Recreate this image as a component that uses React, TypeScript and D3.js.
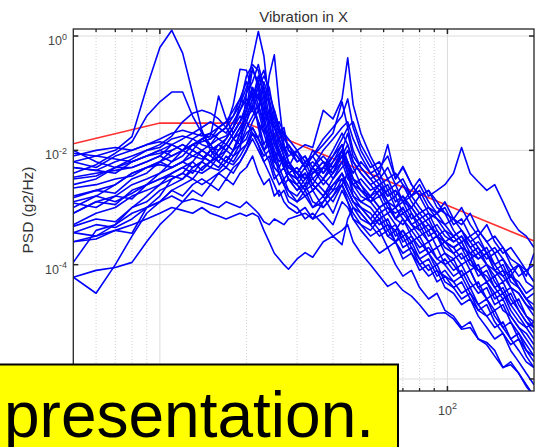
import React from 'react'
import * as d3 from 'd3'

const W = 539
const H = 447

// frequency grid (Hz) shared by all runs
const freqHz = [
  5, 6, 7, 8, 9, 10,
  11, 12, 13, 14, 15, 16, 17, 18, 19, 20,
  21, 22, 23, 24, 25, 26, 27, 28,
  30, 32, 34, 37, 40, 43, 45, 47, 50,
  54, 58, 62, 66, 70, 75, 80, 86, 92, 98,
  105, 112, 120, 128, 137, 146, 156, 166, 177, 188, 200,
]

// measured PSD per run, as log10(g2/Hz)
const run01 = [-2.2, -2.1, -2.0, -1.76, -0.9, -0.2, 0.1, -0.3, -1.0, -1.65, -2.0, -2.2, -2.3, -2.1, -1.9, -1.8, -1.5, -1.3, -1.7, -2.0, -2.3, -2.4, -2.6, -2.7, -2.9, -2.8, -3.0, -2.9, -2.7, -2.6, -2.8, -3.0, -3.2, -3.3, -3.1, -3.4, -3.3, -3.6, -3.5, -3.8, -3.7, -3.9, -4.0, -3.9, -4.2, -4.1, -4.4, -4.3, -4.6, -4.5, -4.8, -5.0, -5.1, -5.3]
const run02 = [-2.4, -2.25, -2.05, -1.85, -1.4, -1.15, -0.98, -0.98, -1.4, -1.7, -1.9, -2.1, -2.2, -2.0, -1.7, -1.5, -1.2, -1.5, -1.9, -1.7, -2.1, -2.4, -2.3, -2.5, -2.6, -2.4, -2.7, -2.5, -2.3, -2.1, -2.4, -2.7, -2.9, -2.8, -3.0, -2.9, -3.2, -3.1, -3.3, -3.4, -3.3, -3.5, -3.6, -3.5, -3.7, -3.8, -3.7, -4.0, -4.1, -4.0, -4.3, -4.4, -4.6, -4.7]
const run03 = [-2.5, -2.45, -2.3, -2.15, -2.0, -1.9, -1.75, -1.5, -1.35, -1.3, -1.35, -1.45, -1.6, -1.8, -1.7, -1.4, -1.1, -0.8, -1.2, -1.7, -2.0, -2.2, -2.1, -2.3, -2.4, -2.2, -2.5, -2.3, -2.4, -2.2, -2.5, -2.6, -2.7, -2.9, -2.7, -3.0, -3.1, -3.0, -3.3, -3.2, -3.5, -3.4, -3.6, -3.7, -3.6, -3.9, -3.8, -4.0, -4.2, -4.1, -4.4, -4.5, -4.7, -4.8]
const run04 = [-2.3, -2.35, -2.4, -2.2, -2.1, -2.0, -2.1, -2.0, -1.9, -1.8, -1.75, -1.05, -1.45, -1.7, -1.5, -1.3, -0.9, -1.2, -1.6, -1.9, -1.7, -2.0, -2.3, -2.2, -2.5, -2.3, -2.6, -2.8, -2.6, -2.4, -2.7, -2.9, -3.0, -3.1, -3.3, -3.2, -3.5, -3.4, -3.6, -3.5, -3.8, -4.0, -3.9, -4.1, -4.0, -4.3, -4.5, -4.4, -4.7, -4.6, -4.9, -5.1, -5.2, -5.4]
const run05 = [-2.6, -2.5, -2.3, -2.2, -2.1, -2.05, -2.0, -1.9, -2.0, -2.1, -2.2, -2.1, -2.0, -2.1, -2.0, -1.0, -0.4, 0.08, -0.35, -1.2, -1.8, -2.1, -2.3, -2.5, -2.7, -2.6, -2.5, -2.7, -2.9, -2.6, -2.4, -2.8, -3.0, -3.2, -3.0, -3.3, -3.4, -3.2, -3.5, -3.7, -3.6, -3.9, -3.8, -4.0, -4.2, -4.1, -4.4, -4.6, -4.5, -4.8, -4.9, -5.1, -5.3, -5.5]
const run06 = [-2.8, -2.7, -2.6, -2.4, -2.3, -2.2, -2.1, -2.0, -1.9, -2.0, -2.1, -2.2, -2.0, -1.8, -1.9, -1.7, -1.6, -1.8, -1.4, -0.7, -0.33, -1.2, -1.9, -2.2, -2.4, -2.5, -2.3, -2.6, -2.4, -2.1, -2.3, -2.6, -2.8, -2.9, -3.1, -3.0, -3.2, -3.3, -3.1, -3.4, -3.6, -3.5, -3.7, -3.8, -3.7, -4.0, -4.1, -4.2, -4.4, -4.3, -4.6, -4.8, -5.0, -5.1]
const run07 = [-2.0, -2.2, -2.3, -2.3, -2.2, -2.1, -2.2, -2.0, -1.9, -1.85, -1.8, -1.7, -1.6, -1.2, -0.58, -0.6, -1.0, -1.6, -2.0, -1.8, -2.2, -2.3, -2.5, -2.4, -2.6, -2.8, -2.7, -3.0, -2.8, -2.6, -2.9, -3.1, -3.3, -3.4, -3.2, -3.5, -3.6, -3.4, -3.7, -3.9, -3.8, -4.1, -4.2, -4.3, -4.2, -4.5, -4.7, -4.6, -4.9, -5.1, -5.0, -5.3, -5.5, -5.7]
const run08 = [-2.9, -2.8, -2.6, -2.4, -2.3, -2.2, -2.3, -2.2, -2.0, -2.1, -2.2, -2.0, -1.9, -2.0, -1.7, -1.3, -0.55, -0.9, -1.5, -1.3, -1.8, -2.0, -2.2, -2.4, -2.5, -2.7, -2.4, -2.2, -2.5, -2.3, -2.2, -2.5, -2.7, -2.8, -2.7, -2.9, -2.8, -3.1, -3.0, -3.2, -3.4, -3.3, -3.5, -3.6, -3.5, -3.8, -3.9, -3.8, -4.1, -4.2, -4.4, -4.5, -4.7, -4.9]
const run09 = [-3.1, -2.9, -2.8, -2.6, -2.5, -2.4, -2.3, -2.2, -2.3, -2.2, -2.0, -1.9, -2.0, -1.8, -1.6, -1.4, -1.1, -0.7, -1.0, -1.6, -1.9, -1.8, -2.1, -2.3, -2.0, -1.9, -1.95, -1.3, -1.45, -1.1, -0.38, -1.2, -1.7, -2.1, -2.4, -1.9, -2.5, -2.3, -2.6, -2.8, -2.7, -3.0, -3.1, -3.4, -3.6, -3.5, -3.7, -3.9, -3.8, -4.1, -4.2, -4.0, -4.3, -4.4]
const run10 = [-3.3, -3.1, -3.0, -2.8, -2.7, -2.6, -2.5, -2.4, -2.5, -2.3, -2.2, -2.3, -2.1, -2.2, -2.0, -1.9, -1.7, -1.8, -2.0, -1.9, -2.1, -2.0, -2.2, -2.4, -2.3, -2.5, -2.4, -2.2, -2.3, -2.0, -2.4, -2.6, -2.5, -2.7, -2.6, -2.8, -2.7, -2.9, -2.7, -2.5, -2.8, -2.7, -2.6, -2.4, -1.95, -2.4, -2.55, -2.7, -2.6, -2.9, -3.2, -3.4, -3.5, -3.7]
const run11 = [-3.6, -3.5, -3.4, -3.3, -3.2, -3.1, -3.0, -3.05, -3.1, -3.0, -3.1, -3.15, -3.2, -3.15, -3.1, -3.15, -3.1, -3.16, -3.4, -3.6, -3.8, -3.9, -4.0, -4.08, -3.9, -3.79, -3.87, -3.6, -3.5, -3.65, -3.2, -3.0, -3.1, -3.3, -3.2, -3.5, -3.4, -3.7, -3.6, -3.9, -4.1, -4.0, -4.3, -4.4, -4.6, -4.5, -4.8, -4.9, -5.1, -5.0, -5.3, -5.5, -5.7, -5.8]
const run12 = [-3.44, -3.5, -3.3, -3.1, -3.0, -2.9, -2.8, -2.9, -2.85, -2.9, -2.95, -3.0, -2.9, -2.95, -3.0, -2.9, -3.0, -3.1, -3.25, -3.3, -3.2, -3.25, -3.3, -3.2, -3.15, -3.1, -3.2, -2.9, -2.6, -2.5, -2.7, -2.9, -3.0, -3.2, -3.4, -3.3, -3.6, -3.8, -3.7, -4.0, -4.2, -4.1, -4.4, -4.5, -4.7, -4.6, -4.9, -5.1, -5.3, -5.2, -5.5, -5.7, -5.9, -6.1]
const run13 = [-4.22, -4.5, -4.0, -3.5, -3.1, -2.9, -2.7, -2.6, -2.5, -2.6, -2.5, -2.4, -2.5, -2.3, -2.2, -2.0, -1.8, -2.0, -2.2, -2.1, -2.4, -2.6, -2.5, -2.7, -2.8, -2.6, -2.9, -3.0, -2.8, -2.5, -2.7, -2.9, -3.1, -3.3, -3.5, -3.4, -3.6, -3.5, -3.8, -4.0, -3.9, -4.2, -4.1, -4.3, -4.5, -4.4, -4.7, -4.9, -4.8, -5.1, -5.3, -5.2, -5.5, -5.6]
const run14 = [-4.22, -4.1, -4.05, -3.96, -3.6, -3.3, -3.1, -2.9, -2.7, -2.8, -2.6, -2.7, -2.5, -2.6, -2.4, -2.3, -2.1, -2.4, -2.6, -2.5, -2.8, -2.7, -2.9, -3.0, -3.1, -3.0, -3.2, -3.1, -3.3, -2.9, -3.0, -3.2, -3.4, -3.6, -3.8, -3.7, -4.0, -4.2, -4.1, -4.4, -4.6, -4.5, -4.8, -4.9, -5.1, -5.0, -5.3, -5.4, -5.6, -5.8, -5.7, -5.9, -6.1, -6.3]
const run15 = [-3.96, -3.4, -3.3, -3.0, -2.9, -2.7, -2.6, -2.5, -2.3, -2.2, -2.3, -2.1, -2.2, -2.0, -1.9, -1.6, -1.4, -1.2, -1.5, -1.9, -2.2, -2.0, -2.3, -2.5, -2.6, -2.8, -2.7, -2.5, -2.7, -2.4, -2.6, -2.8, -2.9, -3.0, -3.2, -3.1, -3.3, -3.5, -3.4, -3.6, -3.8, -3.7, -4.0, -4.2, -4.1, -4.4, -4.3, -4.6, -4.8, -4.7, -5.0, -5.2, -5.4, -5.6]
const run16 = [-3.6, -3.55, -3.4, -3.45, -3.0, -2.8, -2.5, -2.4, -2.2, -2.0, -2.1, -1.9, -1.8, -1.6, -1.3, -1.1, -1.3, -1.0, -1.4, -1.8, -2.0, -2.3, -2.1, -2.4, -2.5, -2.4, -2.6, -2.3, -2.1, -1.9, -2.2, -2.5, -2.6, -2.8, -3.0, -2.9, -3.2, -3.0, -3.3, -3.5, -3.4, -3.7, -3.6, -3.8, -4.0, -3.9, -4.2, -4.1, -4.4, -4.6, -4.5, -4.8, -5.0, -5.2]
const run17 = [-3.33, -3.2, -3.25, -3.0, -2.8, -2.6, -2.4, -2.3, -2.4, -2.2, -2.0, -2.1, -1.9, -1.7, -1.5, -1.2, -0.9, -1.1, -1.3, -1.5, -1.4, -1.7, -1.6, -2.0, -2.2, -2.1, -2.3, -2.0, -1.8, -1.6, -1.5, -1.8, -2.1, -2.4, -2.6, -2.5, -2.8, -2.6, -2.9, -3.1, -3.0, -3.2, -3.3, -3.2, -3.4, -3.6, -3.5, -3.8, -3.7, -3.9, -4.1, -4.0, -4.2, -3.8]
const run18 = [-3.1, -2.9, -2.95, -2.7, -2.6, -2.5, -2.4, -2.3, -2.2, -2.35, -2.2, -2.1, -2.2, -2.0, -1.8, -1.5, -1.2, -0.9, -1.3, -1.5, -1.6, -1.5, -1.7, -1.8, -2.0, -2.2, -2.1, -1.8, -1.6, -1.4, -1.1, -1.6, -2.0, -2.3, -2.2, -2.5, -2.4, -2.6, -2.8, -2.7, -3.0, -3.1, -3.0, -3.3, -3.2, -3.5, -3.4, -3.6, -3.8, -3.7, -4.0, -4.2, -4.1, -4.3]
const run19 = [-2.92, -3.0, -2.8, -2.85, -2.6, -2.4, -2.2, -2.1, -1.9, -1.8, -1.9, -1.7, -1.6, -1.4, -1.2, -0.9, -0.6, -0.8, -0.6, -1.0, -1.3, -1.6, -1.8, -1.9, -2.1, -2.3, -2.0, -2.2, -2.4, -2.0, -1.7, -2.1, -2.3, -2.5, -2.4, -2.7, -2.6, -2.9, -3.0, -2.8, -3.1, -3.2, -3.4, -3.5, -3.4, -3.7, -3.6, -3.8, -4.0, -4.2, -4.1, -4.4, -4.6, -4.5]
const run20 = [-2.83, -2.7, -2.75, -2.5, -2.4, -2.2, -2.0, -1.9, -2.0, -1.8, -1.7, -1.6, -1.5, -1.3, -1.1, -1.2, -1.0, -1.3, -0.8, -1.1, -1.5, -1.8, -2.0, -2.2, -2.4, -2.2, -2.1, -2.4, -2.2, -1.9, -2.3, -2.5, -2.7, -2.8, -2.6, -2.9, -3.0, -2.8, -3.1, -3.3, -3.2, -3.5, -3.6, -3.7, -3.6, -3.9, -4.1, -4.0, -4.3, -4.5, -4.4, -4.7, -4.9, -5.0]
const run21 = [-2.66, -2.6, -2.5, -2.45, -2.3, -2.25, -2.3, -2.2, -2.1, -2.15, -2.0, -1.9, -2.0, -1.8, -1.6, -1.4, -1.3, -1.5, -1.7, -1.5, -1.9, -2.1, -2.3, -2.2, -2.5, -2.7, -2.6, -2.8, -2.5, -2.2, -2.0, -2.3, -2.6, -2.9, -2.8, -3.1, -3.0, -3.2, -3.4, -3.3, -3.6, -3.5, -3.8, -3.9, -3.8, -4.1, -4.0, -4.3, -4.5, -4.4, -4.7, -4.9, -5.1, -5.0]
const run22 = [-2.47, -2.4, -2.35, -2.3, -2.2, -2.1, -1.9, -1.8, -1.7, -1.6, -1.5, -1.6, -1.7, -1.5, -1.3, -1.0, -0.8, -0.5, -0.9, -1.4, -1.6, -1.9, -2.1, -2.3, -2.4, -2.6, -2.3, -2.1, -2.3, -2.1, -1.9, -2.2, -2.4, -2.6, -2.5, -2.8, -2.7, -2.9, -2.8, -3.0, -3.2, -3.1, -3.3, -3.5, -3.4, -3.6, -3.8, -3.7, -4.0, -3.9, -4.2, -4.3, -4.5, -4.4]
const run23 = [-2.3, -2.35, -2.2, -2.1, -2.0, -1.95, -1.8, -1.75, -1.8, -1.9, -1.95, -2.0, -1.8, -1.6, -1.4, -1.5, -1.7, -1.9, -2.1, -2.0, -2.3, -2.4, -2.6, -2.5, -2.7, -2.5, -2.3, -2.5, -2.2, -2.0, -2.2, -2.4, -2.2, -2.4, -2.3, -2.1, -2.5, -2.28, -2.6, -2.8, -2.7, -2.9, -3.1, -3.2, -3.3, -3.1, -3.4, -3.6, -3.5, -3.7, -3.9, -4.0, -4.1, -4.0]
const run24 = [-2.05, -2.1, -2.15, -2.2, -2.1, -2.0, -1.9, -2.0, -2.1, -2.0, -1.9, -1.8, -1.9, -1.7, -1.5, -1.3, -1.0, -1.1, -0.9, -1.2, -1.6, -1.8, -1.7, -2.0, -2.1, -2.3, -2.2, -2.4, -2.1, -1.8, -1.6, -2.0, -2.3, -2.5, -2.7, -2.6, -2.9, -2.8, -3.0, -3.2, -3.1, -3.4, -3.6, -3.7, -3.9, -3.8, -4.1, -4.3, -4.2, -4.5, -4.7, -4.6, -4.9, -5.1]
const run25 = [-3.44, -3.3, -3.35, -3.2, -3.0, -2.9, -2.7, -2.8, -2.6, -2.5, -2.6, -2.4, -2.3, -2.4, -2.2, -2.0, -1.7, -1.9, -2.2, -2.4, -2.6, -2.8, -2.7, -2.9, -3.0, -3.2, -3.1, -3.3, -3.5, -3.4, -3.3, -3.6, -3.8, -4.0, -4.2, -4.38, -4.3, -4.45, -4.55, -4.7, -4.9, -4.85, -4.84, -4.95, -5.13, -5.1, -5.3, -5.36, -5.5, -5.8, -5.75, -5.9, -6.13, -6.3]
const run26 = [-2.2, -2.3, -2.1, -2.0, -1.9, -1.85, -1.9, -2.0, -1.8, -1.7, -1.8, -1.6, -1.5, -1.4, -1.1, -0.8, -1.1, -0.9, -0.7, -0.9, -1.4, -1.7, -1.9, -2.1, -2.0, -2.3, -2.1, -1.9, -1.7, -1.15, -1.6, -1.5, -1.9, -2.2, -2.5, -2.3, -2.6, -2.5, -2.8, -2.6, -2.9, -3.1, -2.9, -3.2, -3.0, -3.3, -3.5, -3.3, -3.6, -3.8, -3.7, -3.9, -4.1, -4.3]
const run27 = [-3.0, -2.8, -2.9, -2.75, -2.6, -2.5, -2.45, -2.5, -2.35, -2.4, -2.3, -2.35, -2.2, -2.25, -2.1, -1.9, -1.6, -1.8, -2.0, -2.2, -2.5, -2.4, -2.6, -2.8, -2.9, -2.7, -3.0, -2.8, -3.1, -2.7, -2.9, -3.2, -3.3, -3.5, -3.4, -3.7, -3.6, -3.9, -3.8, -4.1, -4.0, -4.3, -4.2, -4.4, -4.3, -4.6, -4.8, -4.7, -5.0, -5.2, -5.4, -5.3, -5.6, -5.8]
const run28 = [-2.1, -2.0, -1.95, -2.0, -1.9, -1.8, -1.7, -1.65, -1.7, -1.75, -1.7, -1.8, -1.75, -1.6, -1.2, -0.7, -0.5, -0.6, -1.1, -1.5, -1.3, -1.6, -2.0, -1.9, -2.2, -2.1, -2.4, -2.3, -2.0, -1.7, -1.9, -2.2, -2.4, -2.6, -2.8, -2.7, -3.0, -2.9, -3.2, -3.1, -3.3, -3.5, -3.4, -3.6, -3.5, -3.7, -3.9, -3.8, -4.1, -4.3, -4.2, -4.4, -4.6, -4.8]

const runs = [run01, run02, run03, run04, run05, run06, run07, run08, run09, run10, run11, run12, run13, run14,
  run15, run16, run17, run18, run19, run20, run21, run22, run23, run24, run25, run26, run27, run28]

// limit line
const specHz = [5, 10, 20, 200]
const specPsd = [0.013, 0.03, 0.03, 0.00026]

const titleText = 'Vibration in X'
const yLabelText = 'PSD (g2/Hz)'
const xMajorTicks = [10, 100]
const xMinorTicks = [6, 7, 8, 9, 20, 30, 40, 50, 60, 70, 80, 90]
const yMajorTicks = [1e-6, 1e-4, 1e-2, 1]
// labels that are not hidden behind the banner
const xLabelTicks = [100]
const yLabelTicks = [1e-4, 1e-2, 1]
const bannerText = 'presentation.'

export default function App() {
  const left = 73.3, right = 534, top = 29, bottom = 391

  const x = d3.scaleLog().domain([5, 200]).range([left, right])
  const y = d3.scaleLog().domain([Math.pow(10, -6.21), Math.pow(10, 0.123)]).range([bottom, top])

  const line = d3.line<[number, number]>()
    .x(d => x(d[0]))
    .y(d => y(d[1]))

  const runPaths = runs.map(r => line(r.map((v, i) => [freqHz[i], Math.pow(10, v)] as [number, number])))
  const specPath = line(specHz.map((f, i) => [f, specPsd[i]] as [number, number]))

  const font = "'Liberation Sans', Arial, Helvetica, sans-serif"
  const axisColor = '#262626'

  return (
    <svg width={W} height={H} style={{ position: 'absolute', left: 0, top: 0 }} fontFamily={font}>
      <defs>
        <clipPath id="plotArea">
          <rect x={left} y={top} width={right - left} height={bottom - top} />
        </clipPath>
      </defs>
      <rect x={0} y={0} width={W} height={H} fill="#fff" />

      {/* grid */}
      {xMinorTicks.map(t => (
        <line key={'gm' + t} x1={x(t)} x2={x(t)} y1={top} y2={bottom}
          stroke="#d0d0d0" strokeWidth={1} strokeDasharray="1,2" />
      ))}
      {xMajorTicks.map(t => (
        <line key={'gx' + t} x1={x(t)} x2={x(t)} y1={top} y2={bottom} stroke="#dcdcdc" strokeWidth={1} />
      ))}
      {yMajorTicks.map(t => (
        <line key={'gy' + t} x1={left} x2={right} y1={y(t)} y2={y(t)} stroke="#dcdcdc" strokeWidth={1} />
      ))}

      <g clipPath="url(#plotArea)">
        <path d={specPath || ''} fill="none" stroke="#ff3030" strokeWidth={1.6} />
        {runPaths.map((d, i) => (
          <path key={i} d={d || ''} fill="none" stroke="#0000ff" strokeWidth={1.6} strokeLinejoin="round" />
        ))}
      </g>

      {/* frame and ticks */}
      <rect x={left} y={top} width={right - left} height={bottom - top} fill="none" stroke={axisColor} strokeWidth={1.3} />
      {xMinorTicks.map(t => (
        <g key={'tm' + t}>
          <line x1={x(t)} x2={x(t)} y1={top} y2={top + 3} stroke={axisColor} strokeWidth={1.3} />
          <line x1={x(t)} x2={x(t)} y1={bottom} y2={bottom - 3} stroke={axisColor} strokeWidth={1.3} />
        </g>
      ))}
      {xMajorTicks.map(t => (
        <g key={'tx' + t}>
          <line x1={x(t)} x2={x(t)} y1={top} y2={top + 5} stroke={axisColor} strokeWidth={1.5} />
          <line x1={x(t)} x2={x(t)} y1={bottom} y2={bottom - 5} stroke={axisColor} strokeWidth={1.5} />
        </g>
      ))}
      {xLabelTicks.map(t => (
        <text key={'lx' + t} x={x(t)} y={bottom + 24} textAnchor="middle" fontSize={12.5} fill="#444">
          10<tspan dy={-6} fontSize={9}>{Math.round(Math.log10(t))}</tspan>
        </text>
      ))}
      {yMajorTicks.map(t => (
        <g key={'ty' + t}>
          <line x1={left} x2={left + 5} y1={y(t)} y2={y(t)} stroke={axisColor} strokeWidth={1.5} />
          <line x1={right} x2={right - 5} y1={y(t)} y2={y(t)} stroke={axisColor} strokeWidth={1.5} />
        </g>
      ))}
      {yLabelTicks.map(t => (
        <text key={'ly' + t} x={67} y={y(t) + 9} textAnchor="end" fontSize={12.5} fill="#444">
          10<tspan dy={-5.5} fontSize={9}>{Math.round(Math.log10(t))}</tspan>
        </text>
      ))}

      <text x={(left + right) / 2} y={22} textAnchor="middle" fontSize={15} fill="#333">{titleText}</text>
      <text transform={`translate(33, ${(top + bottom) / 2}) rotate(-90)`} textAnchor="middle" fontSize={15.5} fill="#333">
        {yLabelText}
      </text>

      {/* overlay banner */}
      <rect x={-2} y={364.5} width={400} height={90} fill="#ffff00" stroke="#000" strokeWidth={2} />
      <text x={4} y={437} fontSize={64} fill="#000">{bannerText}</text>
    </svg>
  )
}
